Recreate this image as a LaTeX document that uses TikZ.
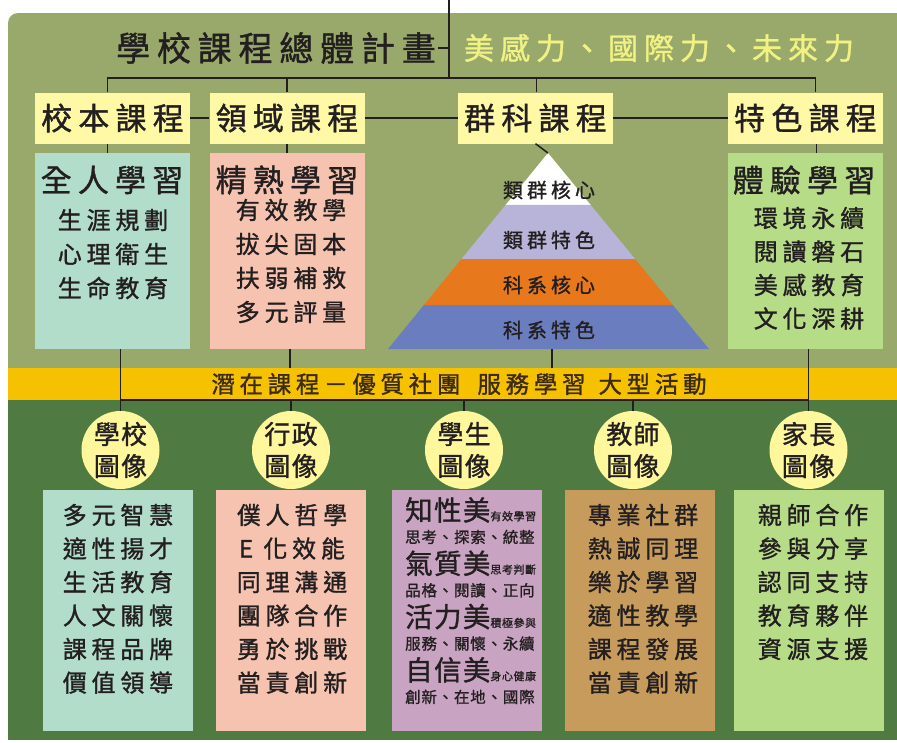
\documentclass[tikz,border=0pt]{standalone}
\usepackage{fontspec}
\setmainfont{Noto Sans CJK TC}
\newfontfamily\spaced[LetterSpace=20,FakeBold=1.2]{Noto Sans CJK TC}
\newfontfamily\tight[LetterSpace=5,FakeBold=1.2]{Noto Sans CJK TC}
\usetikzlibrary{calc}

\definecolor{upperGreen}{HTML}{98A96B}
\definecolor{lowerGreen}{HTML}{4F7B43}
\definecolor{bandYellow}{HTML}{F6C200}
\definecolor{labelYellow}{HTML}{FFF9A6}
\definecolor{badgeYellow}{HTML}{FFF79C}
\definecolor{mottoYellow}{HTML}{F1F283}
\definecolor{mintBox}{HTML}{B3DDCB}
\definecolor{salmonBox}{HTML}{F5C3B0}
\definecolor{leafBox}{HTML}{B6DC88}
\definecolor{mauveBox}{HTML}{C9A4C2}
\definecolor{tanBox}{HTML}{C69B5C}
\definecolor{lilac}{HTML}{B8B3D8}
\definecolor{carrot}{HTML}{E8781C}
\definecolor{slate}{HTML}{6A7DBE}
\definecolor{ink}{HTML}{231F20}
\definecolor{bandInk}{HTML}{3B2A14}

\begin{document}
\begin{tikzpicture}[x=1pt, y=-1pt, text=ink,
    link/.style={draw=ink, line width=1.5},
    tier/.style={fill=labelYellow, minimum width=155, minimum height=51,
                 inner sep=0, font=\spaced\fontsize{31}{31}\selectfont},
    panel/.style={minimum width=155, minimum height=196, inner sep=0},
    slip/.style={minimum width=150, minimum height=241, inner sep=0},
    badge/.style={circle, fill=badgeYellow, minimum size=78, inner sep=0,
                  align=center, font=\tight\fontsize{26}{32}\selectfont},
    heading/.style={inner sep=0, font=\spaced\fontsize{31}{31}\selectfont},
    entry/.style={inner sep=0, font=\spaced\fontsize{24}{24}\selectfont},
    layer/.style={inner sep=0, font=\spaced\fontsize{20}{20}\selectfont}]

  \useasboundingbox (0,0) rectangle (897,742);

  % Background: olive top, yellow band, dark green bottom
  \fill[upperGreen, rounded corners=10] (8,13) rectangle (910,400);
  \fill[bandYellow] (8,368) rectangle (897,400);
  \fill[lowerGreen] (8,400) rectangle (897,740);

  % Title and motto
  \node[inner sep=0, font=\spaced\fontsize{34}{34}\selectfont]
    (title) at (276,48) {學校課程總體計畫};
  \node[inner sep=0, text=mottoYellow, font=\spaced\fontsize{30}{30}\selectfont]
    (motto) at (659,48) {美感力、國際力、未來力};

  \coordinate (top) at (449,0);
  \coordinate (hub) at (449,78);
  \draw[link] (top) -- (hub);
  \draw[link] ([xshift=2]title.east) -- (title.east -| hub);

  % The four kinds of curriculum
  \node[tier] (school)  at (112.5,118) {校本課程};
  \node[tier] (domain)  at (287,118)   {領域課程};
  \node[tier] (cluster) at (535.5,118) {群科課程};
  \node[tier] (feature) at (805.5,118) {特色課程};

  \draw[link] ([xshift=-5]school.north) |- ([xshift=10]feature.north |- hub)
              -- ([xshift=10]feature.north);
  \draw[link] (domain.north) -- (domain.north |- hub);
  \draw[link] ([xshift=1]cluster.north) -- ([xshift=1]cluster.north |- hub);
  \draw[link] (school) -- (domain);
  \draw[link] (domain) -- (cluster);
  \draw[link] (cluster) -- (feature);

  % Panels under the tiers
  \node[panel, fill=mintBox]   (whole)   at (112.5,251) {};
  \node[panel, fill=salmonBox] (mastery) at (287,251)   {};
  \node[panel, fill=leafBox]   (hands)   at (805.5,251) {};

  \draw[link] ([xshift=-5]school.south) -- ([xshift=-5]whole.north);
  \draw[link] (domain.south) -- (mastery.north);
  \draw[link] ([xshift=11]feature.south) -- ([xshift=11]hands.north);

  \node[heading] (whole-head) at (112,180) {全人學習};
  \foreach \t [count=\i] in {生涯規劃,心理衛生,生命教育}
    \node[entry] (whole-\i) at (113,{186+34*\i}) {\t};

  \node[heading] (mastery-head) at (287,180) {精熟學習};
  \foreach \t [count=\i] in {有效教學,拔尖固本,扶弱補救,多元評量}
    \node[entry] (mastery-\i) at (291,{176+34*\i}) {\t};

  \node[heading] (hands-head) at (804,180) {體驗學習};
  \foreach \t [count=\i] in {環境永續,閱讀磐石,美感教育,文化深耕}
    \node[entry] (hands-\i) at (809,{184.5+33.5*\i}) {\t};

  % Pyramid of the cluster curriculum, cut into four layers
  \coordinate (apex)  at (548,153);
  \coordinate (left)  at (388,349);
  \coordinate (right) at (709,349);
  \foreach \a/\b/\c in {0/0.265/white, 0.265/0.541/lilac,
                        0.541/0.776/carrot, 0.776/1/slate}
    \fill[\c] ($(apex)!\a!(left)$) -- ($(apex)!\b!(left)$)
           -- ($(apex)!\b!(right)$) -- ($(apex)!\a!(right)$) -- cycle;
  \draw[link] (cluster.south) -- (apex);

  \foreach \t/\y [count=\i] in {類群核心/190, 類群特色/240, 科系核心/285, 科系特色/330}
    \node[layer] (layer-\i) at (549,\y) {\t};

  % Hidden curriculum band
  \coordinate (bandtop) at (0,368);
  \coordinate (rail)    at (0,400);
  \coordinate (base)    at (552,349);
  \node[inner sep=0, text=bandInk, font=\spaced\fontsize{23.5}{23.5}\selectfont]
    (hidden) at (459,384) {潛在課程－優質社團\hspace{17pt}服務學習\hspace{13pt}大型活動};

  % Five images of the school
  \node[badge] (img-school)  at (120.5,450) {學校\\圖像};
  \node[badge] (img-admin)   at (291,450)   {行政\\圖像};
  \node[badge] (img-student) at (464,450)   {學生\\圖像};
  \node[badge] (img-teacher) at (633,450)   {教師\\圖像};
  \node[badge] (img-parent)  at (808.5,450) {家長\\圖像};

  \draw[link] ([xshift=8]whole.south) -- (img-school.north);
  \draw[link] ([xshift=3]hands.south) -- (img-parent.north);
  \draw[link] ([xshift=3]mastery.south) -- ([xshift=3]mastery.south |- bandtop);
  \draw[link] (base) -- (base |- bandtop);
  \draw[link] (img-school |- rail) -- (img-parent |- rail);
  \foreach \n in {admin,student,teacher}
    \draw[link] (img-\n |- rail) -- (img-\n.north);

  % Boxes below the images
  \node[slip, fill=mintBox]   (school-box)  at (118,610.5)   {};
  \node[slip, fill=salmonBox] (admin-box)   at (290.5,610.5) {};
  \node[slip, fill=mauveBox]  (student-box) at (467,610.5)   {};
  \node[slip, fill=tanBox]    (teacher-box) at (639.5,610.5) {};
  \node[slip, fill=leafBox]   (parent-box)  at (808.5,610.5) {};

  \foreach \t [count=\i] in {多元智慧,適性揚才,生活教育,人文關懷,課程品牌,價值領導}
    \node[entry] (school-\i) at (118,{481.5+33.5*\i}) {\t};
  \foreach \t [count=\i] in {僕人哲學,E 化效能,同理溝通,團隊合作,勇於挑戰,當責創新}
    \node[entry] (admin-\i) at (292,{481.5+33.5*\i}) {\t};
  \foreach \t [count=\i] in {專業社群,熱誠同理,樂於學習,適性教學,課程發展,當責創新}
    \node[entry] (teacher-\i) at (643,{481.5+33.5*\i}) {\t};
  \foreach \t [count=\i] in {親師合作,參與分享,認同支持,教育夥伴,資源支援}
    \node[entry] (parent-\i) at (813,{481.5+33.5*\i}) {\t};

  % Four kinds of beauty for the students
  \foreach \big/\tag/\sub [count=\i] in
      {知性美/有效學習/思考、探索、統整, 氣質美/思考判斷/品格、閱讀、正向,
       活力美/積極參與/服務、關懷、永續, 自信美/身心健康/創新、在地、國際}
  {
    \node[anchor=west, inner sep=0] (beauty-\i) at (405,{456.7+53.3*\i})
      {{\tight\fontsize{27.5}{27.5}\selectfont\big}{\tight\fontsize{11}{11}\selectfont\tag}};
    \node[anchor=west, inner sep=0, font=\tight\fontsize{15.5}{15.5}\selectfont]
      (trait-\i) at (405,{483.7+53.3*\i}) {\sub};
  }
\end{tikzpicture}
\end{document}
